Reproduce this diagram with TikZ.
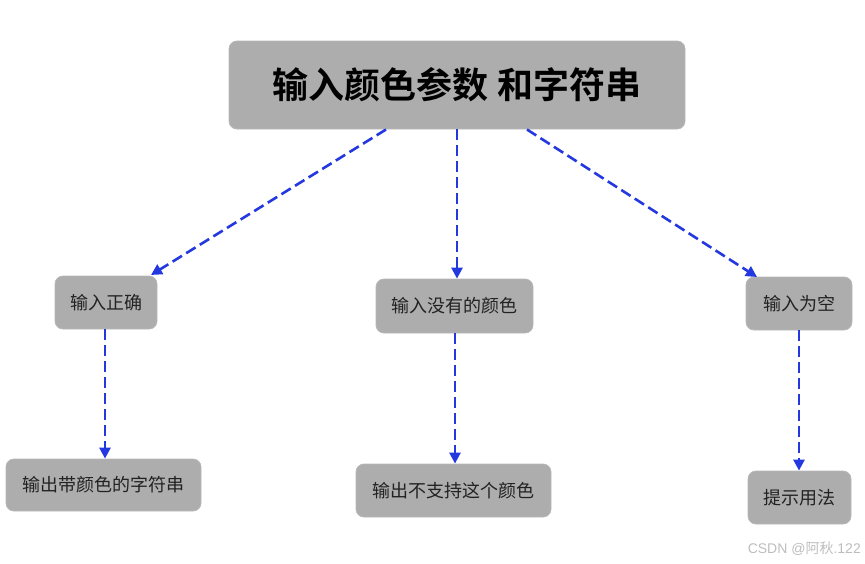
\documentclass[tikz,border=0pt]{standalone}
\usepackage{fontspec}
\setmainfont{Noto Sans CJK SC}
\newfontfamily\cjk{Noto Sans CJK SC}
\newfontfamily\cjkbold{Noto Sans CJK SC Bold}
\setsansfont{Liberation Sans}
\usetikzlibrary{arrows.meta,calc}
\definecolor{boxgray}{HTML}{ADADAD}
\definecolor{boxedge}{HTML}{B8B8B8}
\definecolor{arrowblue}{HTML}{2438E0}
\definecolor{txt}{HTML}{222222}
\definecolor{wm}{HTML}{BDBDBD}
\tikzset{
  box/.style={fill=boxgray, draw=boxedge, line width=0.8pt, rounded corners=8pt,
    inner sep=0pt, text=txt, font=\cjk\fontsize{18}{21}\selectfont},
  topbox/.style={box, font=\cjkbold\fontsize{36}{42}\selectfont, text=black},
  flow/.style={draw=arrowblue, line width=2.6pt, dash pattern=on 11pt off 5pt,
    -{Triangle[length=11pt,width=11pt]}}
}
\begin{document}
\begin{tikzpicture}[x=1pt,y=-1pt]
\useasboundingbox (0,0) rectangle (865,563);
\node[topbox, minimum width=456pt, minimum height=88pt] (top) at (457,85) {输入颜色参数 和字符串};
\node[box, minimum width=102pt, minimum height=53pt] (a) at (106,302.5) {输入正确};
\node[box, minimum width=195pt, minimum height=52pt] (a2) at (103.5,485) {输出带颜色的字符串};
\node[box, minimum width=157pt, minimum height=54pt] (b) at (454.5,306) {输入没有的颜色};
\node[box, minimum width=195pt, minimum height=53pt] (b2) at (453.5,490.5) {输出不支持这个颜色};
\node[box, minimum width=106pt, minimum height=53pt] (c) at (799,303.5) {输入为空};
\node[box, minimum width=103pt, minimum height=53pt] (c2) at (799.5,497.5) {提示用法};
\node[font=\sffamily\fontsize{14}{16}\selectfont, text=wm, anchor=east, inner sep=0pt] (wmk) at (861,549) {CSDN @{\cjk 阿秋}.122};
\coordinate (s1) at (386,129.5);
\coordinate (e1) at (151,275);
\coordinate (s3) at (527,129.5);
\coordinate (e3) at (757,277);
\coordinate (as) at (105,329);
\coordinate (bs) at (455,333);
\coordinate (cs) at (799,330);
\draw[flow] (s1) -- (e1);
\draw[flow] (top.south) -- (top.south |- b.north);
\draw[flow] (s3) -- (e3);
\draw[flow] (as) -- (as |- a2.north);
\draw[flow] (bs) -- (bs |- b2.north);
\draw[flow] (cs) -- (cs |- c2.north);
\end{tikzpicture}
\end{document}
